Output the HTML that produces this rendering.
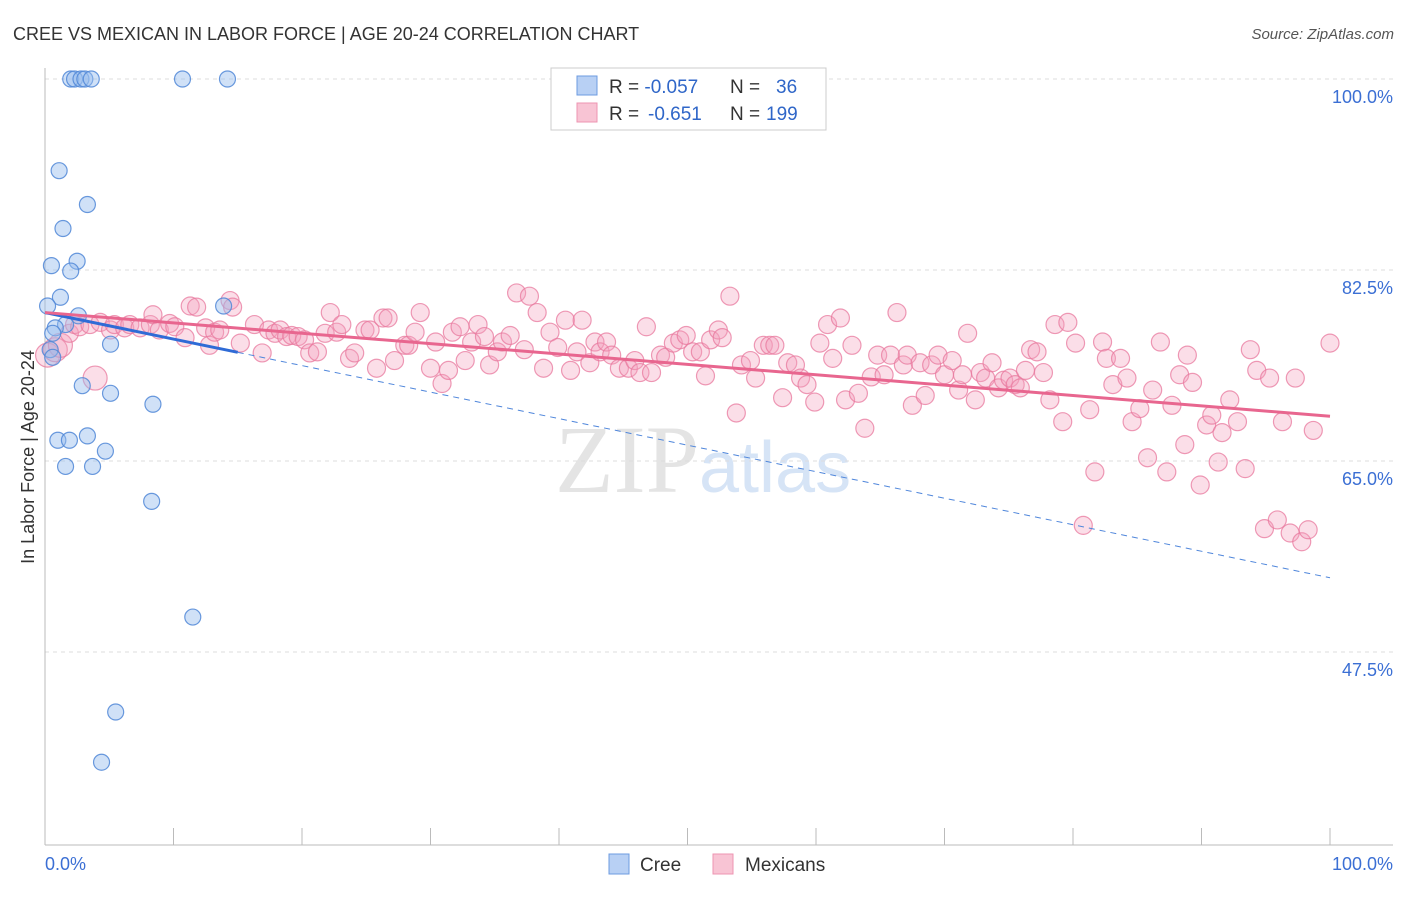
<!DOCTYPE html>
<html><head><meta charset="utf-8"><style>
body{margin:0;background:#fff;font-family:"Liberation Sans",sans-serif;}
</style></head><body>
<svg id="chart" width="1406" height="892" xmlns="http://www.w3.org/2000/svg" font-family="Liberation Sans, sans-serif">
<text x="13" y="40" font-size="18" fill="#333">CREE VS MEXICAN IN LABOR FORCE | AGE 20-24 CORRELATION CHART</text>
<text x="1394" y="39" font-size="15" fill="#555" font-style="italic" text-anchor="end">Source: ZipAtlas.com</text>
<text x="555" y="492" font-size="96" font-family="Liberation Serif, serif" fill="#e4e4e4">ZIP<tspan fill="#d6e4f6" font-family="Liberation Sans, sans-serif" font-size="72">atlas</tspan></text>
<g id="grid"></g>
<g id="axes"></g>
<g id="marks"></g>
<text transform="translate(34,457) rotate(-90)" font-size="18" fill="#333" text-anchor="middle">In Labor Force | Age 20-24</text>
<g>
<rect x="551" y="68" width="275" height="62" fill="#fff" stroke="#ccc"/>
<rect x="577" y="76" width="20" height="19" fill="#b8d0f4" stroke="#6d9be0"/>
<rect x="577" y="103" width="20" height="19" fill="#f8c4d4" stroke="#ee94b2"/>
<text x="609" y="93" font-size="19" fill="#333">R = <tspan fill="#2f66c8">-0.057</tspan><tspan x="730">N = </tspan><tspan x="776" fill="#2f66c8">36</tspan></text>
<text x="609" y="120" font-size="19" fill="#333">R = <tspan x="648" fill="#2f66c8">-0.651</tspan><tspan x="730">N = </tspan><tspan x="766" fill="#2f66c8">199</tspan></text>
</g>
<g>
<rect x="609" y="854" width="20" height="20" fill="#b8d0f4" stroke="#6d9be0"/>
<text x="640" y="871" font-size="19" fill="#333">Cree</text>
<rect x="713" y="854" width="20" height="20" fill="#f8c4d4" stroke="#ee94b2"/>
<text x="745" y="871" font-size="19" fill="#333">Mexicans</text>
</g>
</svg>
<script>
const yTicks=[100,82.5,65,47.5];
const yTickLabels=["100.0%","82.5%","65.0%","47.5%"];
const xTickLabels=["0.0%","100.0%"];
const creeX=[2.0,2.3,2.8,3.1,3.6,10.7,14.2,1.1,3.3,1.4,0.5,2.5,2.0,1.2,0.2,13.9,2.6,1.6,0.8,0.6,5.1,0.4,0.6,2.9,5.1,8.4,1.0,1.9,3.3,4.7,1.6,3.7,8.3,11.5,5.5,4.4];
const creeY=[100,100,100,100,100,100,100,91.6,88.5,86.3,82.9,83.3,82.4,80.0,79.2,79.2,78.3,77.5,77.2,76.7,75.7,75.2,74.5,71.9,71.2,70.2,66.9,66.9,67.3,65.9,64.5,64.5,61.3,50.7,42.0,37.4];
const mexX=[0.2,0.8,1.2,1.9,2.3,2.7,3.5,4.3,5.1,5.4,6.2,6.6,7.4,8.2,8.4,8.9,9.7,10.1,10.9,11.3,11.8,12.5,12.8,13.2,13.6,14.4,14.6,15.2,16.3,16.9,17.4,17.9,18.3,18.8,19.2,19.7,20.2,20.6,21.2,21.8,22.2,22.7,23.1,23.7,24.1,24.9,25.3,25.8,26.3,26.7,27.2,28.0,28.3,28.8,29.2,30.0,30.4,30.9,31.4,31.7,32.3,32.7,33.2,33.7,34.2,34.6,35.2,35.6,36.2,36.7,37.3,37.7,38.3,38.8,39.3,39.9,40.5,40.9,41.4,41.8,42.4,42.8,43.2,43.7,44.1,44.7,45.4,45.9,46.3,46.8,47.2,47.9,48.3,48.9,49.4,49.9,50.4,51.0,51.4,51.8,52.4,52.7,53.3,53.8,54.2,54.9,55.3,55.9,56.4,56.8,57.4,57.8,58.4,58.8,59.3,59.9,60.3,60.9,61.3,61.9,62.3,62.8,63.3,63.8,64.3,64.8,65.3,65.8,66.3,66.8,67.1,67.5,68.1,68.5,69.0,69.5,70.0,70.6,71.1,71.4,71.8,72.4,72.8,73.2,73.7,74.2,74.6,75.1,75.5,75.9,76.3,76.7,77.2,77.7,78.2,78.6,79.2,79.6,80.2,80.8,81.3,81.7,82.3,82.6,83.1,83.7,84.2,84.6,85.2,85.8,86.2,86.8,87.3,87.7,88.3,88.7,89.3,89.9,90.4,90.8,91.3,91.6,92.2,92.8,93.4,93.8,94.3,94.9,95.3,95.9,96.3,96.9,97.3,97.8,98.3,98.7,100,3.9,88.9];
const mexY=[74.7,75.2,75.6,76.7,77.5,77.3,77.5,77.7,77.0,77.5,77.2,77.5,77.2,77.5,78.4,77.0,77.6,77.3,76.3,79.2,79.1,77.2,75.6,76.8,77.0,79.7,79.1,75.8,77.5,74.9,77.0,76.7,77.0,76.4,76.5,76.4,76.1,74.9,75.0,76.7,78.6,76.8,77.5,74.4,74.9,77.0,77.0,73.5,78.1,78.1,74.2,75.6,75.6,76.8,78.6,73.5,75.9,72.1,73.3,76.8,77.3,74.2,75.9,77.5,76.4,73.8,75.0,75.9,76.5,80.4,75.2,80.1,78.6,73.5,76.8,75.4,77.9,73.3,75.0,77.9,74.0,75.9,75.0,75.9,74.7,73.5,73.5,74.2,73.1,77.3,73.1,74.7,74.5,75.8,76.1,76.5,75.0,75.0,72.8,76.1,77.0,76.3,80.1,69.4,73.8,74.2,72.6,75.6,75.6,75.6,70.8,74.0,73.8,72.6,72.0,70.4,75.8,77.5,74.4,78.1,70.6,75.6,71.2,68.0,72.7,74.7,72.9,74.7,78.6,73.8,74.7,70.1,74.0,71.0,73.8,74.7,72.9,74.2,71.5,72.9,76.7,70.6,73.1,72.6,74.0,71.7,72.4,72.6,72.0,71.7,73.3,75.2,75.0,73.1,70.6,77.5,68.6,77.7,75.8,59.1,69.7,64.0,75.9,74.4,72.0,74.4,72.6,68.6,69.8,65.3,71.5,75.9,64.0,70.1,72.9,66.5,72.2,62.8,68.3,69.2,64.9,67.6,70.6,68.6,64.3,75.2,73.3,58.8,72.6,59.6,68.6,58.4,72.6,57.6,58.7,67.8,75.8,72.6,74.7];
const NS="http://www.w3.org/2000/svg";
const X0=45,X1=1330,Y100=79,PPU=10.914;
function sx(v){return X0+(X1-X0)*v/100;}
function sy(v){return Y100+(100-v)*PPU;}
function mk(tag,attrs,parent){const e=document.createElementNS(NS,tag);for(const k in attrs)e.setAttribute(k,attrs[k]);parent.appendChild(e);return e;}
const big=[0,1,2,mexX.length-2];
const grid=document.getElementById('grid'),axes=document.getElementById('axes'),marks=document.getElementById('marks');
yTicks.forEach((t,i)=>{
 const l=mk('line',{x1:45,x2:1393,y1:sy(t),y2:sy(t),stroke:'#ddd','stroke-dasharray':'4,4'},grid);
 
 
 const tx=mk('text',{x:1393,y:sy(t)+24,'font-size':18,fill:'#3b6fd4','text-anchor':'end'},grid);
 tx.textContent=yTickLabels[i];
 
 
});
let a=mk('line',{x1:45,x2:45,y1:68,y2:845,stroke:'#bbb'},axes);


a=mk('line',{x1:45,x2:1393,y1:845,y2:845,stroke:'#bbb'},axes);


for(let i=0;i<=10;i++){const t=mk('line',{x1:sx(i*10),x2:sx(i*10),y1:828,y2:845,stroke:'#bbb'},axes);
 
 }
[[0,'start',45],[100,'end',1393]].forEach((d,i)=>{const t=mk('text',{x:d[2],y:870,'font-size':18,fill:'#3b6fd4','text-anchor':d[1]},axes);t.textContent=xTickLabels[i];
 
 });
mexX.forEach((x,i)=>{const c=mk('circle',{cx:sx(x),cy:sy(mexY[i]),r:big.includes(i)?12:9,fill:'rgba(244,160,188,0.35)',stroke:'rgba(232,120,158,0.75)','stroke-width':1.2},marks);
 
 });
creeX.forEach((x,i)=>{const c=mk('circle',{cx:sx(x),cy:sy(creeY[i]),r:8,fill:'rgba(150,188,238,0.45)',stroke:'rgba(80,135,215,0.85)','stroke-width':1.2},marks);
 
 });
const creeTrend=[78.6,54.3],mexTrend=[78.6,69.1];
let ln=mk('line',{x1:sx(15),y1:sy(creeTrend[0]+(creeTrend[1]-creeTrend[0])*0.15),x2:sx(100),y2:sy(creeTrend[1]),stroke:'#4f86db','stroke-width':1,'stroke-dasharray':'6,5'},marks);


ln=mk('line',{x1:sx(0),y1:sy(creeTrend[0]),x2:sx(15),y2:sy(creeTrend[0]+(creeTrend[1]-creeTrend[0])*0.15),stroke:'#2f6bd6','stroke-width':3},marks);


ln=mk('line',{x1:sx(0),y1:sy(mexTrend[0]),x2:sx(100),y2:sy(mexTrend[1]),stroke:'#e8668f','stroke-width':3},marks);


</script>
</body></html>
